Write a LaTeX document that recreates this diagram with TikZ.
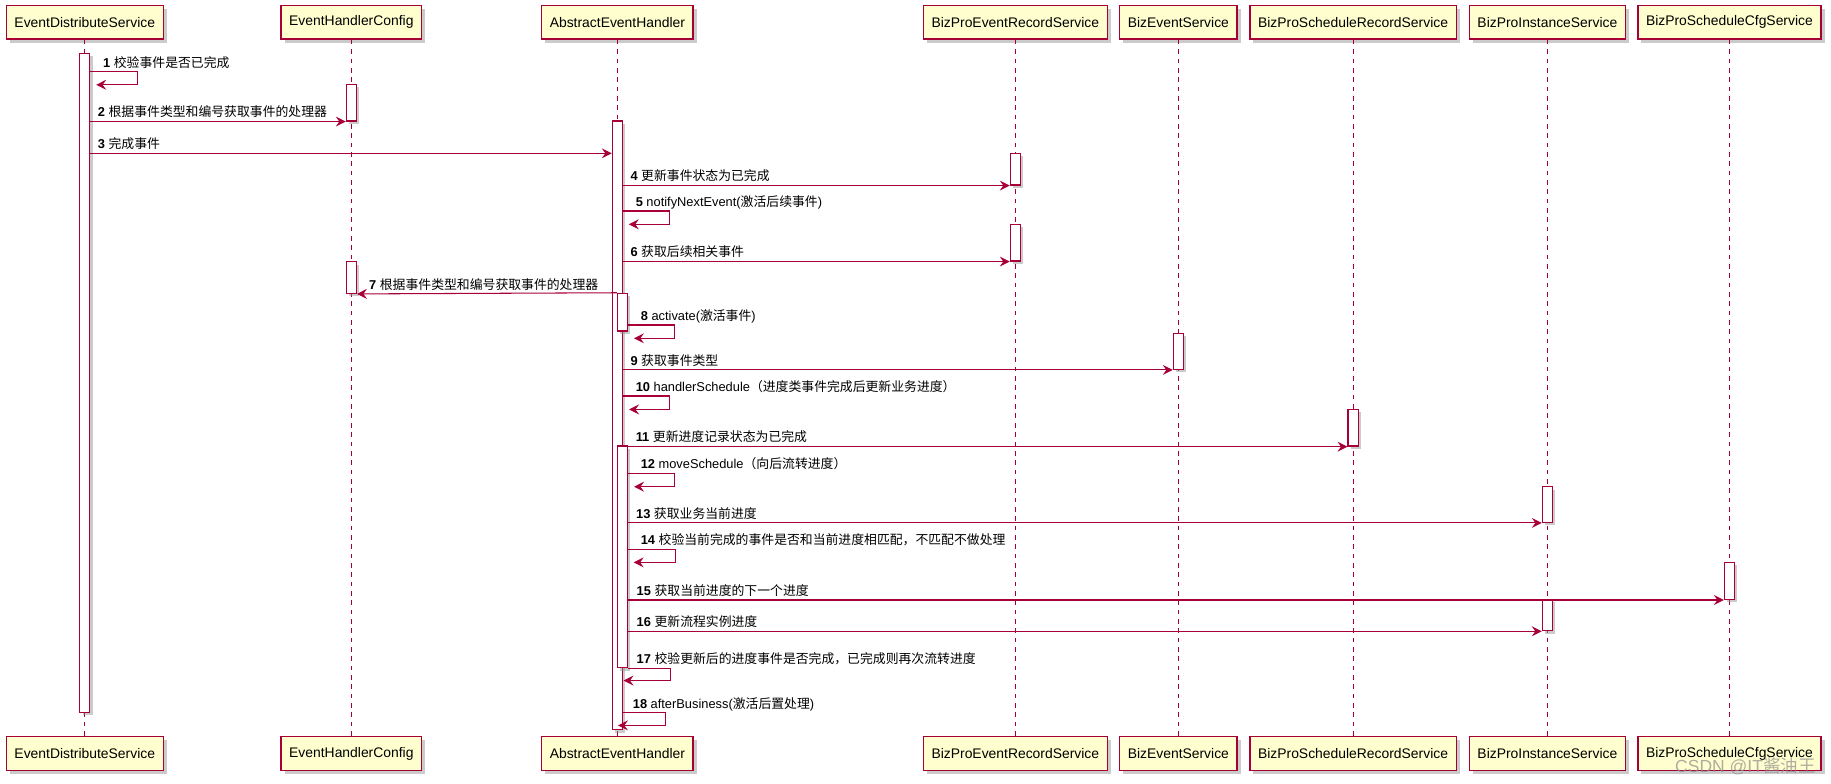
\documentclass[tikz,border=0pt]{standalone}
\usepackage{fontspec}
\setmainfont{Liberation Sans}
\newfontfamily\cjk{Noto Sans CJK SC}
\usetikzlibrary{arrows.meta,shadows}
\definecolor{umlred}{RGB}{168,0,54}
\definecolor{umlfill}{RGB}{254,254,206}
\newcommand{\zh}[1]{{\cjk #1}}

\begin{document}
\begin{tikzpicture}[x=1pt, y=-1pt,
  part/.style={draw=umlred, fill=umlfill, line width=1.2pt, minimum height=29pt, inner xsep=7pt, inner ysep=0pt,
    font=\fontsize{11.9}{14}\selectfont, drop shadow={shadow xshift=3pt, shadow yshift=-3pt, fill=black!45, opacity=0.45}},
  life/.style={draw=umlred, line width=0.8pt, dash pattern=on 4pt off 4pt},
  actbar/.style={draw=umlred, fill=white, line width=1pt, minimum width=8.6pt, inner sep=0pt,
    drop shadow={shadow xshift=2.5pt, shadow yshift=-2.5pt, fill=black!45, opacity=0.45}},
  msg/.style={draw=umlred, line width=0.9pt, -{Stealth[length=8.5pt, width=8.5pt, inset=3pt]}},
  lbl/.style={anchor=base west, inner sep=0pt, yshift=4pt, font=\fontsize{11}{13}\selectfont}
]
\useasboundingbox (0,0) rectangle (1568,671);

\node[part] (edsT) at (72.6,19) {EventDistributeService};
\node[part] (ehcT) at (300.9,19) {EventHandlerConfig};
\node[part] (aehT) at (528.7,19) {AbstractEventHandler};
\node[part] (perT) at (869.5,19) {BizProEventRecordService};
\node[part] (besT) at (1009.1,19) {BizEventService};
\node[part] (psrT) at (1158.7,19) {BizProScheduleRecordService};
\node[part] (pisT) at (1325.1,19) {BizProInstanceService};
\node[part] (pscT) at (1481,19) {BizProScheduleCfgService};

\node[part] (edsB) at (72.6,645.4) {EventDistributeService};
\node[part] (ehcB) at (300.9,645.4) {EventHandlerConfig};
\node[part] (aehB) at (528.7,645.4) {AbstractEventHandler};
\node[part] (perB) at (869.5,645.4) {BizProEventRecordService};
\node[part] (besB) at (1009.1,645.4) {BizEventService};
\node[part] (psrB) at (1158.7,645.4) {BizProScheduleRecordService};
\node[part] (pisB) at (1325.1,645.4) {BizProInstanceService};
\node[part] (pscB) at (1481,645.4) {BizProScheduleCfgService};

\draw[life] (edsT) -- (edsB);
\draw[life] (ehcT) -- (ehcB);
\draw[life] (aehT) -- (aehB);
\draw[life] (perT) -- (perB);
\draw[life] (besT) -- (besB);
\draw[life] (psrT) -- (psrB);
\draw[life] (pisT) -- (pisB);
\draw[life] (pscT) -- (pscB);

\node[actbar, minimum height=564.3pt] (a1) at (72.6,327.85) {};
\node[actbar, minimum height=31.4pt] (c1) at (300.9,87.9) {};
\node[actbar, minimum height=521.4pt] (h1) at (528.7,364.3) {};
\node[actbar, minimum height=27.1pt] (r1) at (869.5,144.85) {};
\node[actbar, minimum height=31.4pt] (r2) at (869.5,207.8) {};
\node[actbar, minimum height=27.1pt] (c2) at (300.9,237.65) {};
\node[actbar, minimum height=32.3pt] (h2) at (533,267.35) {};
\node[actbar, minimum height=30.8pt] (e1) at (1009.1,300.9) {};
\node[actbar, minimum height=31.4pt] (s1) at (1158.7,366.3) {};
\node[actbar, minimum height=189.8pt] (h3) at (533,476.9) {};
\node[actbar, minimum height=30.5pt] (i1) at (1325.1,432.05) {};
\node[actbar, minimum height=31.7pt] (g1) at (1481,497.45) {};
\node[actbar, minimum height=26.8pt] (i2) at (1325.1,526.7) {};

\coordinate (m3) at (0,131.3);

\draw[msg] (a1.east |- 0,61.4)
  node[lbl, xshift=10.5pt] (l1) {\textbf{1} \zh{校验事件是否已完成}}
  -- ++(40.5,0) -- ++(0,11.2) -- ++(-35.5,0);
\draw[msg] (a1.east |- c1.south) -- (c1.south west)
  node[lbl, at start, xshift=6pt] (l2) {\textbf{2} \zh{根据事件类型和编号获取事件的处理器}};
\draw[msg] (a1.east |- m3) -- (h1.west |- m3)
  node[lbl, at start, xshift=6pt] (l3) {\textbf{3} \zh{完成事件}};
\draw[msg] (h1.east |- r1.south) -- (r1.south west)
  node[lbl, at start, xshift=6pt] (l4) {\textbf{4} \zh{更新事件状态为已完成}};
\draw[msg] (h1.east |- 0,180.7)
  node[lbl, xshift=10.5pt] (l5) {\textbf{5} notifyNextEvent(\zh{激活后续事件})}
  -- ++(40.2,0) -- ++(0,11.4) -- ++(-35.2,0);
\draw[msg] (h1.east |- r2.south) -- (r2.south west)
  node[lbl, at start, xshift=6pt] (l6) {\textbf{6} \zh{获取后续相关事件}};
\draw[msg] (h2.north west) -- (c2.south east)
  node[lbl, at end, xshift=10pt] (l7) {\textbf{7} \zh{根据事件类型和编号获取事件的处理器}};
\draw[msg] (h2.east |- 0,278.3)
  node[lbl, xshift=10.5pt] (l8) {\textbf{8} activate(\zh{激活事件})}
  -- ++(40.2,0) -- ++(0,11.4) -- ++(-35.1,0);
\draw[msg] (h1.east |- e1.south) -- (e1.south west)
  node[lbl, at start, xshift=6pt] (l9) {\textbf{9} \zh{获取事件类型}};
\draw[msg] (h1.east |- 0,339.1)
  node[lbl, xshift=10.5pt] (l10) {\textbf{10} handlerSchedule\zh{（进度类事件完成后更新业务进度）}}
  -- ++(40.2,0) -- ++(0,11.5) -- ++(-35,0);
\draw[msg] (h1.east |- s1.south) -- (s1.south west)
  node[lbl, at start, xshift=10.5pt] (l11) {\textbf{11} \zh{更新进度记录状态为已完成}};
\draw[msg] (h3.east |- 0,405.4)
  node[lbl, xshift=10.5pt] (l12) {\textbf{12} moveSchedule\zh{（向后流转进度）}}
  -- ++(40.2,0) -- ++(0,11.4) -- ++(-35,0);
\draw[msg] (h3.east |- i1.south) -- (i1.south west)
  node[lbl, at start, xshift=6.5pt] (l13) {\textbf{13} \zh{获取业务当前进度}};
\draw[msg] (h3.east |- 0,470.4)
  node[lbl, xshift=10.5pt] (l14) {\textbf{14} \zh{校验当前完成的事件是否和当前进度相匹配，不匹配不做处理}}
  -- ++(40.4,0) -- ++(0,11.2) -- ++(-35.5,0);
\draw[msg] (h3.east |- g1.south) -- (g1.south west)
  node[lbl, at start, xshift=7pt] (l15) {\textbf{15} \zh{获取当前进度的下一个进度}};
\draw[msg] (h3.east |- i2.south) -- (i2.south west)
  node[lbl, at start, xshift=7pt] (l16) {\textbf{16} \zh{更新流程实例进度}};
\draw[msg] (h3.south east)
  node[lbl, xshift=7pt] (l17) {\textbf{17} \zh{校验更新后的进度事件是否完成，已完成则再次流转进度}}
  -- ++(36.5,0) -- ++(0,10.5) -- ++(-40.3,0);
\draw[msg] (h1.east |- 0,610.3)
  node[lbl, xshift=8pt] (l18) {\textbf{18} afterBusiness(\zh{激活后置处理})}
  -- ++(36,0) -- ++(0,10.9) -- ++(-40.3,0);

%\draw[help lines] (0,0) grid (1568,671);
\node[anchor=west, text=black!45, opacity=0.7, font=\fontsize{15}{16}\selectfont] (mark) at (1431,656.6) {CSDN @IT\zh{酱油王}};

\end{tikzpicture}
\end{document}
